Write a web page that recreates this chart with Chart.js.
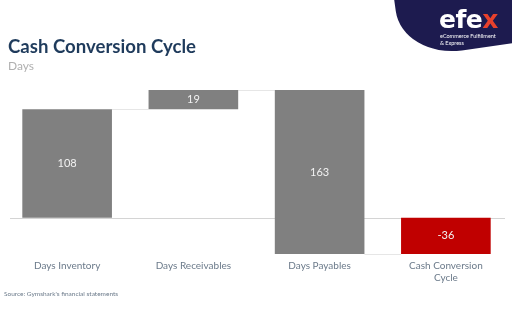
<!DOCTYPE html>
<html>
<head>
<meta charset="utf-8">
<script src="https://cdn.jsdelivr.net/npm/chart.js@4"></script>
<style>
  body { margin: 0; background: #fff; }
  #wrap { position: relative; width: 512px; height: 333px; overflow: hidden; font-family: Lato, sans-serif; }
  #chart { position: absolute; left: 0; top: 0; }
  .title { position: absolute; left: 8px; top: 35px; font-size: 18.6px; font-weight: bold; color: #1f3b5c; }
  .sub { position: absolute; left: 8px; top: 58px; font-size: 12px; color: #b0b0b0; }
  .source { position: absolute; left: 4px; top: 290px; font-size: 6.5px; color: #6b7a8a; }
  .logo { position: absolute; left: 396px; top: -34px; width: 160px; height: 82px; background: #1d1b4f; border-bottom-left-radius: 60px 48px; transform: rotate(-8deg); }
  .efex { position: absolute; left: 439px; top: 5px; font-size: 25px; font-weight: 900; color: #fff; letter-spacing: -0.5px; font-family: "DejaVu Sans", sans-serif; }
  .efex span { color: #e8412c; }
  .tag { position: absolute; left: 440px; top: 33px; font-size: 5.5px; color: #fff; line-height: 6.5px; }
</style>
</head>
<body>
<div id="wrap">
  <canvas id="chart" width="512" height="333"></canvas>
  <div class="logo"></div>
  <div class="efex">efe<span>x</span></div>
  <div class="tag">eCommerce Fulfillment<br>&amp; Express</div>
  <div class="title">Cash Conversion Cycle</div>
  <div class="sub">Days</div>
  <div class="source">Source: Gymshark's financial statements</div>
</div>
<script>
var categories = ['Days Inventory', 'Days Receivables', 'Days Payables', ['Cash Conversion', 'Cycle']]
var starts = [0, 108, 127, 0]
var ends = [108, 127, -36, -36]
var valueLabels = ['108', '19', '163', '-36']
var barColors = ['#808080', '#808080', '#808080', '#c00000']

var ranges = []
for (let i = 0; i < starts.length; i++) {
    ranges.push([starts[i], ends[i]])
}

// baseline, connector lines and the numbers inside bars
var waterfallExtras = {
    id: 'waterfallExtras',
    beforeDatasetsDraw(chart) {
        var ctx = chart.ctx
        var y = chart.scales.y
        var meta = chart.getDatasetMeta(0)
        ctx.save()
        ctx.strokeStyle = '#d4d4d4'
        ctx.lineWidth = 1
        ctx.beginPath()
        ctx.moveTo(chart.chartArea.left + 6, Math.round(y.getPixelForValue(0)) + 0.5)
        ctx.lineTo(chart.chartArea.right - 4, Math.round(y.getPixelForValue(0)) + 0.5)
        ctx.stroke()
        ctx.strokeStyle = '#e6e6e6'
        for (let i = 0; i < meta.data.length - 1; i++) {
            var a = meta.data[i], b = meta.data[i + 1]
            var yy = Math.round(y.getPixelForValue(ends[i])) + 0.5
            ctx.beginPath()
            ctx.moveTo(a.x + a.width / 2, yy)
            ctx.lineTo(b.x - b.width / 2, yy)
            ctx.stroke()
        }
        ctx.restore()
    },
    afterDatasetsDraw(chart) {
        var ctx = chart.ctx
        var meta = chart.getDatasetMeta(0)
        ctx.save()
        ctx.fillStyle = '#f2f2f2'
        ctx.font = '11px Lato'
        ctx.textAlign = 'center'
        ctx.textBaseline = 'middle'
        meta.data.forEach(function (bar, i) {
            ctx.fillText(valueLabels[i], bar.x, (bar.y + bar.base) / 2)
        })
        ctx.restore()
    }
}

var ctx = document.getElementById('chart').getContext('2d')
var myChart = new Chart(ctx, {
    type: 'bar',
    data: {
        labels: categories,
        datasets: [{
            data: ranges,
            backgroundColor: barColors,
            borderWidth: 0,
            barPercentage: 0.71,
            categoryPercentage: 1
        }]
    },
    options: {
        responsive: false,
        animation: false,
        layout: { padding: { left: 4, right: 3, top: 77, bottom: 45 } },
        plugins: { legend: { display: false }, tooltip: { enabled: false } },
        scales: {
            x: {
                grid: { display: false, drawTicks: false },
                border: { display: false },
                ticks: { color: '#6b7a8a', font: { family: 'Lato', size: 10 }, padding: 4, maxRotation: 0 }
            },
            y: { display: false, min: -38, max: 140 }
        }
    },
    plugins: [waterfallExtras]
})
</script>
</body>
</html>
